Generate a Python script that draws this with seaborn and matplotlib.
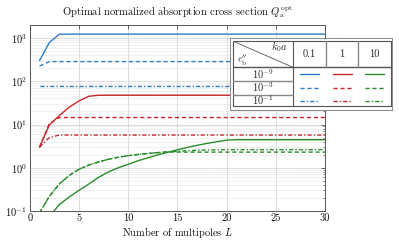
import numpy as np
import pandas as pd
import matplotlib
matplotlib.use("Agg")
import matplotlib.pyplot as plt
import seaborn as sns

# ---------------- data ----------------
L = list(range(1, 31))

blue_solid = [300, 790, 1220] + [1230] * 27
blue_dash = [225, 285] + [285] * 28
blue_dashdot = [76] * 30

red_solid = [3.0, 9.8, 16, 25, 35, 45] + [47.5] * 24
red_dash = [3.0, 10.5] + [14.5] * 28
red_dashdot = [3.0, 5.0] + [5.7] * 28

green_solid = [0.03, 0.075, 0.14, 0.21, 0.30, 0.42, 0.60, 0.80, 1.0, 1.2,
               1.45, 1.7, 1.98, 2.28, 2.6, 2.95, 3.3, 3.65, 4.0, 4.35] + [4.45] * 10
green_dashdot = [0.09, 0.22, 0.42, 0.66, 0.92, 1.15, 1.37, 1.57, 1.75, 1.9,
                 2.03, 2.14, 2.24, 2.32, 2.4, 2.47, 2.53, 2.58, 2.61] + [2.62] * 11
green_dash = green_dashdot[:14] + [2.3] * 16

ka_labels = ["0.1", "1", "10"]
eps_labels = [r"$10^{-9}$", r"$10^{-3}$", r"$10^{-1}$"]
x_ticks = [0, 5, 10, 15, 20, 25, 30]

colors = ["#2d7dc8", "#c8262c", "#2a8c2a"]
styles = ["-", (0, (3, 2)), (0, (3, 1.5, 1, 1.5))]

series = {
    (0, 0): blue_solid, (0, 1): blue_dash, (0, 2): blue_dashdot,
    (1, 0): red_solid, (1, 1): red_dash, (1, 2): red_dashdot,
    (2, 0): green_solid, (2, 1): green_dash, (2, 2): green_dashdot,
}

# ---------------- style ----------------
sns.set_theme(style="white")
plt.rcParams["font.family"] = "serif"
plt.rcParams["font.serif"] = ["cmr10", "DejaVu Serif"]
plt.rcParams["mathtext.fontset"] = "cm"
plt.rcParams["axes.formatter.use_mathtext"] = True
FS = 7.5
TFS = 7.6

W, H = 399, 243
fig = plt.figure(figsize=(W / 100, H / 100), dpi=100)
ax = fig.add_axes([29.7 / W, 1 - 211 / H, (325 - 29.7) / W, (211 - 25) / H])

for (c, s), vals in series.items():
    df = pd.DataFrame({"L": L, "Q": vals})
    sns.lineplot(data=df, x="L", y="Q", ax=ax, color=colors[c],
                 linestyle=styles[s], linewidth=1.0, zorder=3)

ax.set_yscale("log")
ax.set_xlim(0, 30)
ax.set_ylim(0.1, 2000)
ax.set_xticks(x_ticks)
ax.set_xticklabels([str(t) for t in x_ticks])
ax.grid(which="major", color="#cfcfcf", linewidth=0.5, linestyle="-")
ax.grid(which="minor", axis="y", color="#d8d8d8", linewidth=0.45, linestyle=(0, (1.5, 1)))
ax.tick_params(which="both", direction="in", top=True, right=True,
               labelsize=FS, colors="#333333", labelcolor="#111111", pad=2)
ax.tick_params(which="major", length=3, width=0.5)
ax.tick_params(which="minor", length=1.8, width=0.4)
ax.tick_params(axis="x", which="minor", length=0)
for sp in ax.spines.values():
    sp.set_color("#555555")
    sp.set_linewidth(0.7)
ax.set_xlabel(r"Number of multipoles $L$", fontsize=FS, labelpad=2, color="#111111")
ax.set_ylabel("")
ax.set_title(r"Optimal normalized absorption cross section $Q_\mathrm{a}^\mathrm{opt}$",
             fontsize=TFS, pad=7, color="#111111")

# ---------------- table legend ----------------
x0, x1, y0, y1 = 230, 392, 37.7, 110.5
lax = fig.add_axes([x0 / W, 1 - y1 / H, (x1 - x0) / W, (y1 - y0) / H])
lax.set_xlim(x0, x1)
lax.set_ylim(y1, y0)
lax.set_xticks([])
lax.set_yticks([])
lax.set_facecolor("white")
for sp in lax.spines.values():
    sp.set_color("#888888")
    sp.set_linewidth(0.7)
lax.set_zorder(5)

tl, tr, tt, tb = 233.3, 390.5, 41.3, 106.5
hdr = 67.3
col1 = 293.0
cols = [293.0, 325.7, 358.3, tr]
rows = [hdr, 81.3, 94.7, tb]
dark = "#555555"
lax.plot([tl, tr, tr, tl, tl], [tt, tt, tb, tb, tt], color=dark, lw=0.8)
lax.plot([col1, col1], [tt, tb], color=dark, lw=0.8)
lax.plot([tl, tr], [hdr, hdr], color=dark, lw=1.0)
for cx in cols[1:3]:
    lax.plot([cx, cx], [tt, hdr], color="#888888", lw=1.0)
for ry in rows[1:3]:
    lax.plot([tl, col1], [ry, ry], color="#888888", lw=1.0)
lax.plot([tl, col1], [tt, hdr], color=dark, lw=0.6)

lax.text(288, 47, r"$k_0a$", fontsize=FS, ha="right", va="center")
lax.text(237, 60, r"$\epsilon_\mathrm{b}''$", fontsize=FS, ha="left", va="center")
for i, lab in enumerate(ka_labels):
    lax.text((cols[i] + cols[i + 1]) / 2, 54.5, lab, fontsize=FS, ha="center", va="center")
for j, lab in enumerate(eps_labels):
    ry = (rows[j] + rows[j + 1]) / 2
    lax.text((tl + col1) / 2, ry - 0.5, lab, fontsize=FS, ha="center", va="center")
    for i in range(3):
        cx = (cols[i] + cols[i + 1]) / 2
        lax.plot([cx - 9.5, cx + 9.5], [ry, ry], color=colors[i],
                 linestyle=styles[j], lw=1.0)

fig.savefig("out.png", dpi=100)
